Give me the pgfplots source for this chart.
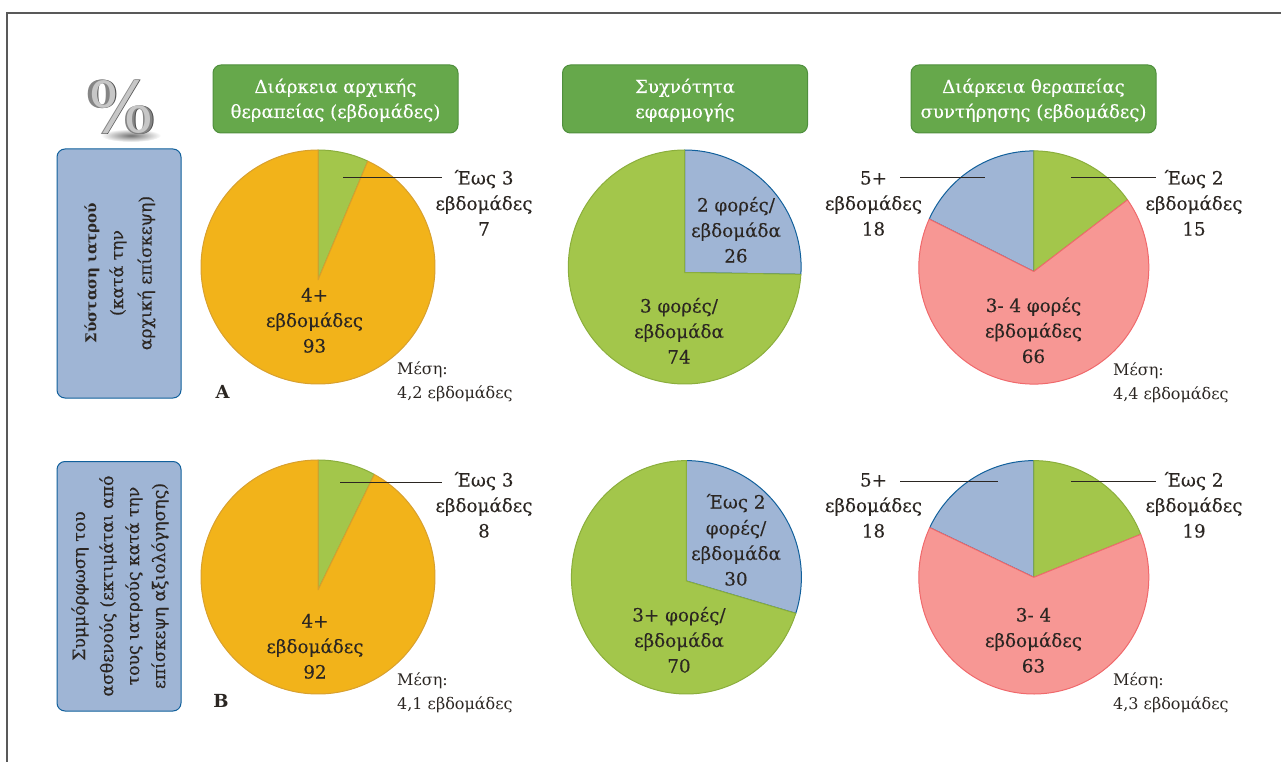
\documentclass[border=0pt]{standalone}
\usepackage{pgfplots}
\pgfplotsset{compat=1.18}
\usepackage{fontspec}
\setmainfont{DejaVu Serif}
\newfontfamily\heavyserif[FakeBold=0.5]{DejaVu Serif}
\newfontfamily\lightheavy[FakeBold=0.25]{DejaVu Serif}
\usetikzlibrary{shadings}

\definecolor{pieOrange}{HTML}{F2B31A}
\definecolor{pieOrangeLine}{HTML}{D8A02E}
\definecolor{pieGreen}{HTML}{A3C64B}
\definecolor{pieGreenLine}{HTML}{8BAE3C}
\definecolor{pieBlue}{HTML}{9FB5D5}
\definecolor{pieBlueLine}{HTML}{11609C}
\definecolor{pieRed}{HTML}{F79794}
\definecolor{pieRedLine}{HTML}{F0696C}
\definecolor{headGreen}{HTML}{66A84B}
\definecolor{headLine}{HTML}{4F8F3D}
\definecolor{inkText}{HTML}{2B2622}

% circle centre, radii and apex of the current pie
\newcommand{\setpie}[6]{\def\pcx{#1}\def\pcy{#2}\def\prx{#3}\def\pry{#4}\def\apx{#5}\def\apy{#6}}
% one slice: fill, edge, cumulative start, cumulative end, total of the pie
\newcommand{\slice}[5]{%
  \pgfmathsetmacro\angA{#3/#5*360}%
  \pgfmathsetmacro\angB{#4/#5*360}%
  \xdef\slicepts{(\apx,\apy)}%
  \pgfmathtruncatemacro\nsteps{max(2,ceil((\angB-\angA)/2))}%
  \foreach \k in {0,...,\nsteps}{%
    \pgfmathsetmacro\th{\angA+(\angB-\angA)*(\k/\nsteps)}%
    \pgfmathsetmacro\px{\pcx+\prx*sin(\th)}%
    \pgfmathsetmacro\py{\pcy-\pry*cos(\th)}%
    \xdef\slicepts{\slicepts (\px,\py)}%
  }%
  \edef\doplot{\noexpand\addplot[fill=#1,draw=#2,line width=1pt,line join=round] coordinates {\slicepts (\apx,\apy)};}%
  \doplot
}
% leader line from a slice to its outer label
\newcommand{\leader}[3]{\addplot[draw=inkText,line width=1pt] coordinates {(#1,#3) (#2,#3)};}
% centred text line, y is the visual middle of the digits
\newcommand{\lab}[3]{\node[anchor=base,text=inkText,font=\lightheavy\fontsize{18.3}{20}\selectfont,inner sep=0pt] at (axis cs:#1,#2+6.5) {#3};}
\newcommand{\threelab}[6]{\lab{#1}{#2}{#4}\lab{#1}{#2+25.5}{#5}\lab{#1}{#2+51}{#6}}
\newcommand{\mean}[3]{%
  \node[anchor=base west,text=inkText,font=\fontsize{16}{17}\selectfont,inner sep=0pt] at (axis cs:#1,#2+5.5) {Μέση:};
  \node[anchor=base west,text=inkText,font=\fontsize{16}{17}\selectfont,inner sep=0pt] at (axis cs:#1,#2+29) {#3};}
\newcommand{\headbox}[4]{%
  \draw[fill=headGreen,draw=headLine,line width=1pt,rounded corners=8pt] (axis cs:#1-122.5,65) rectangle (axis cs:#1+122.5,133);
  \node[anchor=base,text=white,font=\lightheavy\fontsize{18.1}{20}\selectfont,inner sep=0pt] at (axis cs:#1,93) {#2};
  \node[anchor=base,text=white,font=\lightheavy\fontsize{18.1}{20}\selectfont,inner sep=0pt] at (axis cs:#1,118) {#3};}
\newcommand{\rowbox}[2]{\draw[fill=pieBlue,draw=pieBlueLine,line width=1pt,rounded corners=8pt] (axis cs:57,#1) rectangle (axis cs:181,#2);}
\newcommand{\vlab}[4][\heavyserif\fontsize{17.2}{17}]{\node[rotate=90,anchor=center,text=inkText,font=#1\selectfont,inner sep=0pt] at (axis cs:#2,#3) {#4};}

\begin{document}
\begin{tikzpicture}
\useasboundingbox (0,0) rectangle (1281pt,762pt);
\begin{axis}[
  at={(0pt,0pt)},anchor=south west,
  width=1281pt,height=762pt,scale only axis,hide axis,clip=false,
  xmin=0,xmax=1281,ymin=0,ymax=762,y dir=reverse]

% outer frame, open at the bottom and on the right
\addplot[draw=black!65,line width=1.6pt] coordinates {(7,762) (7,13) (1281,13)};

% column headers
\headbox{335.5}{Διάρκεια αρχικής}{θεραπείας (εβδομάδες)}{}
\headbox{685}{Συχνότητα}{εφαρμογής}{}
\headbox{1033.5}{Διάρκεια θεραπείας}{συντήρησης (εβδομάδες)}{}

% row headers
\rowbox{149}{398}
\vlab[\bfseries\fontsize{15}{17}]{92}{273}{Σύσταση ιατρού}
\vlab{118}{273}{(κατά την}
\vlab{146.5}{273}{αρχική επίσκεψη)}
\rowbox{461.5}{711}
\vlab{80}{586}{Συμμόρφωση του}
\vlab{108}{586}{ασθενούς (εκτιμάται από}
\vlab{134}{586}{τους ιατρούς κατά την}
\vlab{160}{586}{επίσκεψη αξιολόγησης)}

% percent emblem above the row headers
\shade[inner color=black!55,outer color=white] (axis cs:131,135.5) ellipse [x radius=30pt,y radius=6.5pt];
\node[text=black!70,font=\fontsize{72}{72}\selectfont\bfseries,inner sep=0pt] at (axis cs:121.5,107.4) {\%};
\node[text=black!48,font=\fontsize{72}{72}\selectfont\bfseries,inner sep=0pt] at (axis cs:121,107) {\%};
\node[text=black!22,font=\fontsize{70}{72}\selectfont,inner sep=0pt,xscale=0.99] at (axis cs:121,107) {\%};

% first row
\setpie{318}{267}{117}{117}{318}{280}
\slice{pieGreen}{pieGreenLine}{0}{7}{100}
\slice{pieOrange}{pieOrangeLine}{7}{100}{100}
\setpie{684.7}{267}{116.4}{117}{684.7}{272.5}
\slice{pieBlue}{pieBlueLine}{0}{26}{100}
\slice{pieGreen}{pieGreenLine}{26}{100}{100}
\setpie{1033.8}{267.5}{115}{116.6}{1033.8}{271.5}
\slice{pieBlue}{pieBlueLine}{81}{99}{99}
\slice{pieGreen}{pieGreenLine}{0}{15}{99}
\slice{pieRed}{pieRedLine}{15}{81}{99}

% second row
\setpie{318}{577}{117}{117}{318}{590}
\slice{pieGreen}{pieGreenLine}{0}{8}{100}
\slice{pieOrange}{pieOrangeLine}{8}{100}{100}
\setpie{686.4}{577.3}{115}{116.7}{686.4}{581}
\slice{pieBlue}{pieBlueLine}{0}{30}{100}
\slice{pieGreen}{pieGreenLine}{30}{100}{100}
\setpie{1033.8}{577.3}{115}{116.7}{1033.8}{577.3}
\slice{pieBlue}{pieBlueLine}{82}{100}{100}
\slice{pieGreen}{pieGreenLine}{0}{19}{100}
\slice{pieRed}{pieRedLine}{19}{82}{100}

% leader lines
\leader{343}{442}{178}
\leader{1071}{1156}{178}
\leader{900}{985}{178}
\leader{340}{442}{482}
\leader{1071}{1156}{481}
\leader{900}{998}{481}

% labels of the first row
\threelab{484}{178}{}{Έως 3}{εβδομάδες}{7}
\threelab{314.5}{295}{}{4+}{εβδομάδες}{93}
\threelab{736}{205}{}{2 φορές/}{εβδομάδα}{26}
\threelab{679}{306}{}{3 φορές/}{εβδομάδα}{74}
\threelab{873.5}{178}{}{5+}{εβδομάδες}{18}
\threelab{1194}{178}{}{Έως 2}{εβδομάδες}{15}
\threelab{1033.5}{305.5}{}{3- 4 φορές}{εβδομάδες}{66}
\mean{397}{369}{4,2 εβδομάδες}
\mean{1113}{370}{4,4 εβδομάδες}

% labels of the second row
\threelab{484}{480}{}{Έως 3}{εβδομάδες}{8}
\threelab{315}{621}{}{4+}{εβδομάδες}{92}
\lab{736}{502}{Έως 2}
\threelab{736}{528}{}{φορές/}{εβδομάδα}{30}
\threelab{679}{615}{}{3+ φορές/}{εβδομάδα}{70}
\threelab{873.5}{480}{}{5+}{εβδομάδες}{18}
\threelab{1194}{480}{}{Έως 2}{εβδομάδες}{19}
\threelab{1033.5}{615}{}{3- 4}{εβδομάδες}{63}
\mean{397}{680}{4,1 εβδομάδες}
\mean{1113}{680}{4,3 εβδομάδες}

% panel letters
\node[anchor=center,text=inkText,font=\fontsize{18}{20}\selectfont\bfseries,inner sep=0pt] at (axis cs:222.5,392) {A};
\node[anchor=center,text=inkText,font=\fontsize{18}{20}\selectfont\bfseries,inner sep=0pt] at (axis cs:221,701) {B};
\end{axis}
\end{tikzpicture}
\end{document}
